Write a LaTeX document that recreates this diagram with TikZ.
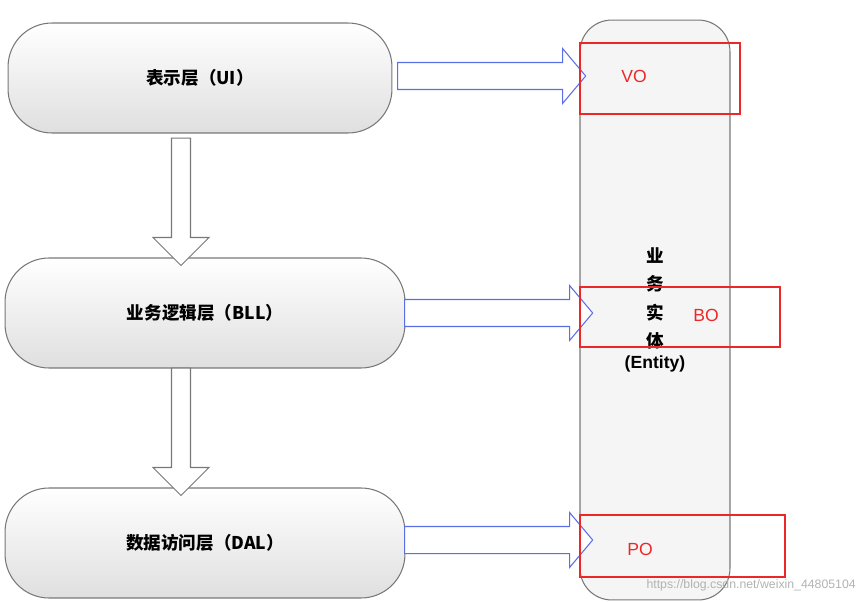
\documentclass[tikz,border=0pt]{standalone}
\usepackage{fontspec}
\setmainfont{Noto Sans CJK SC}
\newfontfamily\cjk{Noto Sans CJK SC}
\newfontfamily\latin{Liberation Sans}
\usetikzlibrary{shapes.arrows, positioning}
\definecolor{edge}{RGB}{120,120,120}
\definecolor{flowblue}{RGB}{90,110,230}
\definecolor{mark}{RGB}{235,40,40}
\tikzset{
    layer/.style={rectangle, rounded corners=25pt, draw=edge, semithick, top color=white, bottom color=gray!25, minimum width=6.8cm, minimum height=2.2cm, text centered, font=\cjk\bfseries},
    entity/.style={rectangle, rounded corners=18pt, draw=edge, semithick, fill=gray!8, minimum width=3cm, minimum height=11.6cm, align=center, font=\cjk\bfseries},
    down/.style={single arrow, draw=edge, semithick, fill=white, rotate=-90, single arrow head extend=0.37cm, single arrow tip angle=90, minimum height=2.55cm, inner sep=0.18cm},
    right/.style={single arrow, draw=flowblue, semithick, fill=white, single arrow head extend=0.28cm, single arrow tip angle=100, minimum height=3.76cm, inner sep=0.26cm},
    tag/.style={rectangle, draw=mark, very thick, text=mark, font=\latin}
}
\begin{document}
\begin{tikzpicture}[x=0.02cm, y=-0.02cm]
    \useasboundingbox (0,0) rectangle (867,602);
    % Layers
    \node[layer, minimum width=7.68cm] (ui) at (200,78) {表示层（UI）};
    \node[layer, minimum width=8cm] (bll) at (205,313) {业务逻辑层（BLL）};
    \node[layer, minimum width=8cm] (dal) at (205,543) {数据访问层（DAL）};

    % Entity column
    \node[entity] (ent) at (655,310) {业\\[4pt]务\\[4pt]实\\[4pt]体\\[0pt]{\latin\bfseries(Entity)}};

    % Down arrows
    \node[down] (d1) at (181,197) {};
    \node[down] (d2) at (181,427) {};

    % Right arrows
    \node[right] (r1) at (486,76) {};
    \node[right] (r2) at (493,313) {};
    \node[right] (r3) at (493,540) {};

    % Red marks
    \node[tag, minimum width=3.2cm, minimum height=1.42cm, anchor=north west] (vo) at (579,42) {};
    \node[text=mark, font=\latin] (vot) at (634,76) {VO};
    \node[tag, minimum width=4cm, minimum height=1.2cm, anchor=north west] (bo) at (579,286) {};
    \node[text=mark, font=\latin] (bot) at (706,315) {BO};
    \node[tag, minimum width=4.1cm, minimum height=1.24cm, anchor=north west] (po) at (579,514) {};
    \node[text=mark, font=\latin] (pot) at (640,549) {PO};

    % Watermark
    \node[text=gray!60, font=\latin\scriptsize, anchor=south east] (wm) at (862,597) {https://blog.csdn.net/weixin\_44805104};
\end{tikzpicture}
\end{document}
